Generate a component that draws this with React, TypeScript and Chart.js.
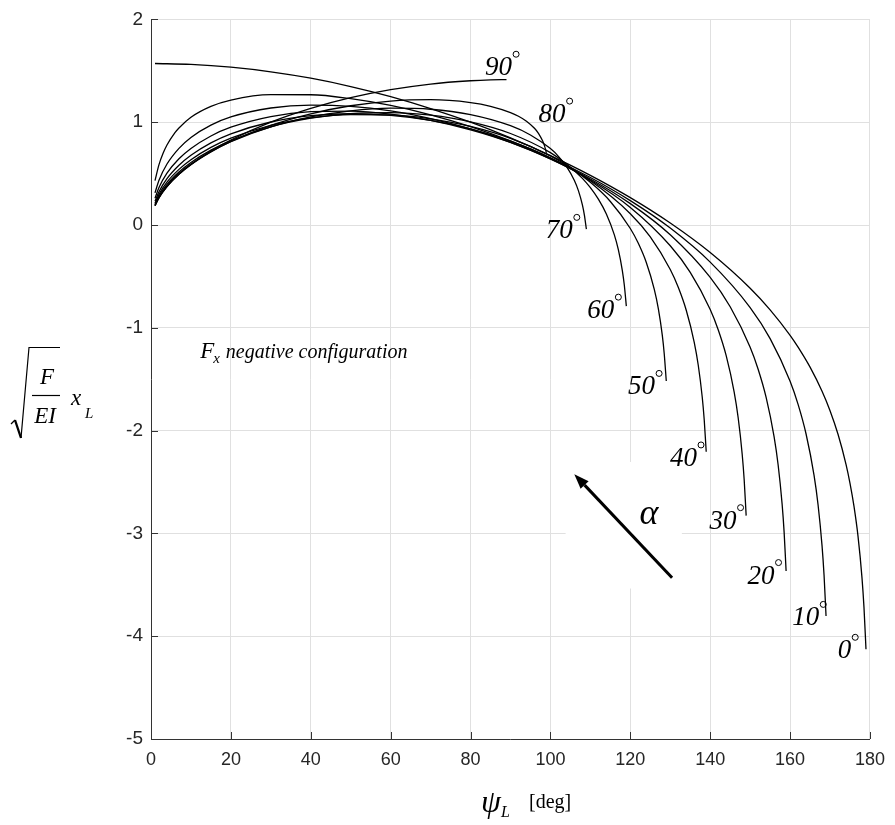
import React, { useEffect, useRef } from "react";
import { Chart, registerables } from "chart.js";

Chart.register(...registerables);

// ---------- data ----------
const ALPHA_LABELS = ["0", "10", "20", "30", "40", "50", "60", "70", "80", "90"];

const PSI_0 = [1, 10, 20, 30, 40, 50, 60, 70, 80, 90, 100, 110, 120, 130, 140, 150, 155, 160, 162, 165, 168, 170, 172, 174, 175, 176, 177, 178, 178.5, 179];
const XL_0 = [1.571, 1.562, 1.535, 1.49, 1.428, 1.347, 1.249, 1.133, 1.0, 0.847, 0.675, 0.483, 0.266, 0.019, -0.268, -0.615, -0.825, -1.073, -1.188, -1.383, -1.617, -1.806, -2.036, -2.328, -2.513, -2.738, -3.027, -3.433, -3.722, -4.127];

const PSI_10 = [1, 2, 3, 4, 6, 7, 10, 15, 20, 30, 40, 50, 60, 70, 80, 90, 100, 110, 120, 130, 140, 150, 155, 160, 162, 164, 166, 167, 168, 168.5, 169];
const XL_10 = [0.431, 0.587, 0.695, 0.778, 0.898, 0.944, 1.048, 1.154, 1.215, 1.268, 1.267, 1.229, 1.163, 1.072, 0.957, 0.818, 0.654, 0.462, 0.237, -0.03, -0.361, -0.803, -1.105, -1.52, -1.745, -2.033, -2.436, -2.721, -3.121, -3.405, -3.804];

const PSI_20 = [1, 2, 4, 7, 10, 15, 20, 30, 40, 50, 60, 70, 80, 90, 100, 110, 120, 130, 140, 145, 150, 152, 154, 156, 157, 158, 158.5, 159];
const XL_20 = [0.313, 0.435, 0.593, 0.746, 0.852, 0.972, 1.051, 1.138, 1.166, 1.154, 1.11, 1.035, 0.934, 0.804, 0.643, 0.448, 0.208, -0.095, -0.509, -0.795, -1.189, -1.403, -1.677, -2.061, -2.332, -2.714, -2.985, -3.366];

const PSI_30 = [1, 2, 4, 7, 10, 15, 20, 30, 40, 50, 60, 70, 80, 90, 100, 110, 120, 130, 135, 140, 142, 144, 146, 147, 148, 148.5, 149];
const XL_30 = [0.261, 0.365, 0.504, 0.644, 0.744, 0.866, 0.951, 1.055, 1.102, 1.108, 1.079, 1.018, 0.926, 0.803, 0.643, 0.438, 0.171, -0.202, -0.461, -0.822, -1.019, -1.271, -1.625, -1.875, -2.227, -2.476, -2.827];

const PSI_40 = [1, 2, 4, 7, 10, 15, 20, 30, 40, 50, 60, 70, 80, 90, 100, 110, 120, 125, 130, 132, 134, 136, 137, 138, 138.5, 139];
const XL_40 = [0.231, 0.324, 0.451, 0.581, 0.678, 0.799, 0.887, 1.002, 1.063, 1.082, 1.066, 1.017, 0.935, 0.815, 0.652, 0.43, 0.11, -0.116, -0.433, -0.606, -0.829, -1.141, -1.362, -1.673, -1.894, -2.205];

const PSI_50 = [1, 2, 4, 7, 10, 15, 20, 30, 40, 50, 60, 70, 80, 90, 100, 105, 110, 115, 120, 122, 124, 126, 127, 128, 128.5, 129];
const XL_50 = [0.212, 0.298, 0.417, 0.541, 0.635, 0.755, 0.845, 0.97, 1.042, 1.074, 1.071, 1.033, 0.959, 0.843, 0.672, 0.558, 0.415, 0.229, -0.034, -0.178, -0.364, -0.626, -0.811, -1.072, -1.257, -1.518];

const PSI_60 = [1, 2, 4, 7, 10, 15, 20, 30, 40, 50, 60, 70, 80, 90, 100, 104, 108, 110, 112, 114, 116, 117, 118, 118.5, 119];
const XL_60 = [0.2, 0.282, 0.395, 0.515, 0.608, 0.728, 0.821, 0.955, 1.039, 1.084, 1.093, 1.068, 1.003, 0.89, 0.704, 0.594, 0.454, 0.363, 0.251, 0.107, -0.096, -0.24, -0.443, -0.586, -0.789];

const PSI_70 = [1, 2, 4, 7, 10, 15, 20, 30, 40, 50, 60, 70, 80, 90, 95, 100, 102, 104, 106, 107, 108, 108.5, 109];
const XL_70 = [0.192, 0.271, 0.381, 0.5, 0.592, 0.713, 0.81, 0.954, 1.051, 1.111, 1.136, 1.126, 1.074, 0.966, 0.876, 0.743, 0.668, 0.571, 0.433, 0.334, 0.196, 0.097, -0.041];

const PSI_80 = [1, 2, 4, 7, 10, 15, 20, 30, 40, 50, 60, 70, 80, 85, 90, 92, 94, 96, 97, 98, 98.5, 99];
const XL_80 = [0.188, 0.266, 0.374, 0.493, 0.586, 0.71, 0.812, 0.969, 1.082, 1.16, 1.206, 1.219, 1.191, 1.155, 1.094, 1.058, 1.01, 0.941, 0.892, 0.821, 0.772, 0.701];

const PSI_90 = [1, 2, 4, 7, 10, 15, 20, 30, 40, 50, 60, 70, 80, 85, 89];
const XL_90 = [0.187, 0.264, 0.374, 0.494, 0.589, 0.72, 0.827, 1.0, 1.134, 1.238, 1.316, 1.371, 1.403, 1.412, 1.414];

const CURVES: [number[], number[]][] = [
  [PSI_0, XL_0], [PSI_10, XL_10], [PSI_20, XL_20], [PSI_30, XL_30], [PSI_40, XL_40],
  [PSI_50, XL_50], [PSI_60, XL_60], [PSI_70, XL_70], [PSI_80, XL_80], [PSI_90, XL_90],
];

// label anchors (right edge of the number, baseline) in data units
const LABEL_PSI = [175.3, 167.3, 156.1, 146.6, 136.7, 126.2, 116.0, 105.6, 103.8, 90.4];
const LABEL_Y = [-4.215, -3.895, -3.488, -2.954, -2.344, -1.648, -0.906, -0.13, 1.001, 1.457];

// arrow (tail -> head) and the white box behind it
const ARROW_PSI = [130.45, 105.98];
const ARROW_Y = [-3.432, -2.424];
const ALPHA_POS = [124.65, -2.812];
const BOX_PSI = [103.8, 132.9];
const BOX_Y = [-2.305, -3.536];
const NOTE_POS = [12.3, -1.29];

const X_MIN = 0, X_MAX = 180, X_STEP = 20;
const Y_MIN = -5, Y_MAX = 2, Y_STEP = 1;

const SERIF = "'Liberation Serif', 'Times New Roman', serif";
const SANS = "'Liberation Sans', Arial, sans-serif";
const AXIS_COLOR = "#333333";

export default function App() {
  const ref = useRef<HTMLCanvasElement | null>(null);

  useEffect(() => {
    const canvas = ref.current;
    if (!canvas) return;

    const datasets = CURVES.map(([ps, xs], i) => ({
      label: ALPHA_LABELS[i],
      data: ps.map((p, j) => ({ x: p, y: xs[j] })),
      showLine: true,
      borderColor: "#000",
      borderWidth: 1.3,
      pointRadius: 0,
      fill: false,
      cubicInterpolationMode: "monotone" as const,
    }));

    const annot = {
      id: "annot",
      beforeDatasetsDraw(chart: any) {
        const { ctx, scales } = chart;
        const x = scales.x, y = scales.y;
        ctx.save();
        ctx.fillStyle = "#fff";
        const x1 = x.getPixelForValue(BOX_PSI[0]);
        const x2 = x.getPixelForValue(BOX_PSI[1]);
        const y1 = y.getPixelForValue(BOX_Y[0]);
        const y2 = y.getPixelForValue(BOX_Y[1]);
        ctx.fillRect(x1, y1, x2 - x1, y2 - y1);
        ctx.restore();
      },
      afterDatasetsDraw(chart: any) {
        const { ctx, scales, chartArea } = chart;
        const x = scales.x, y = scales.y;
        const L = chartArea.left, B = chartArea.bottom;
        ctx.save();

        // inner tick marks
        ctx.strokeStyle = AXIS_COLOR;
        ctx.lineWidth = 1;
        ctx.beginPath();
        for (let v = X_MIN; v <= X_MAX; v += X_STEP) {
          const px = Math.round(x.getPixelForValue(v)) + 0.5;
          ctx.moveTo(px, B);
          ctx.lineTo(px, B - 7);
        }
        for (let v = Y_MIN; v <= Y_MAX; v += Y_STEP) {
          const py = Math.round(y.getPixelForValue(v)) + 0.5;
          ctx.moveTo(L, py);
          ctx.lineTo(L + 7, py);
        }
        ctx.stroke();

        // alpha labels
        ctx.fillStyle = "#000";
        ctx.strokeStyle = "#000";
        ctx.font = `italic 27px ${SERIF}`;
        ctx.textAlign = "right";
        ctx.textBaseline = "alphabetic";
        ALPHA_LABELS.forEach((lab, i) => {
          const px = x.getPixelForValue(LABEL_PSI[i]);
          const py = y.getPixelForValue(LABEL_Y[i]);
          ctx.fillText(lab, px, py);
          ctx.beginPath();
          ctx.lineWidth = 1;
          ctx.arc(px + 4, py - 21, 3, 0, Math.PI * 2);
          ctx.stroke();
        });

        // arrow
        const tx = x.getPixelForValue(ARROW_PSI[0]);
        const ty = y.getPixelForValue(ARROW_Y[0]);
        const hx = x.getPixelForValue(ARROW_PSI[1]);
        const hy = y.getPixelForValue(ARROW_Y[1]);
        const ang = Math.atan2(hy - ty, hx - tx);
        const hl = 15, hw = 5.5;
        const bx = hx - hl * Math.cos(ang), by = hy - hl * Math.sin(ang);
        ctx.lineWidth = 3;
        ctx.beginPath();
        ctx.moveTo(tx, ty);
        ctx.lineTo(bx, by);
        ctx.stroke();
        ctx.beginPath();
        ctx.moveTo(hx, hy);
        ctx.lineTo(bx + hw * Math.sin(ang), by - hw * Math.cos(ang));
        ctx.lineTo(bx - hw * Math.sin(ang), by + hw * Math.cos(ang));
        ctx.closePath();
        ctx.fill();

        // alpha symbol
        ctx.font = `italic 36px ${SERIF}`;
        ctx.textAlign = "center";
        ctx.textBaseline = "middle";
        ctx.fillText("α", x.getPixelForValue(ALPHA_POS[0]), y.getPixelForValue(ALPHA_POS[1]));

        // note text
        const nx = x.getPixelForValue(NOTE_POS[0]);
        const ny = y.getPixelForValue(NOTE_POS[1]);
        ctx.textAlign = "left";
        ctx.textBaseline = "alphabetic";
        ctx.font = `italic 23px ${SERIF}`;
        ctx.fillText("F", nx, ny);
        let w = ctx.measureText("F").width;
        ctx.font = `italic 15px ${SERIF}`;
        ctx.fillText("x", nx + w - 1, ny + 5);
        w += ctx.measureText("x").width;
        ctx.font = `italic 20px ${SERIF}`;
        ctx.fillText(" negative configuration", nx + w, ny);

        // y axis title: sqrt(F/EI) x_L
        ctx.lineWidth = 1.2;
        ctx.beginPath();
        ctx.moveTo(11, 424);
        ctx.lineTo(15, 420);
        ctx.stroke();
        ctx.lineWidth = 2.3;
        ctx.beginPath();
        ctx.moveTo(15, 420);
        ctx.lineTo(21, 438);
        ctx.stroke();
        ctx.lineWidth = 1.2;
        ctx.beginPath();
        ctx.moveTo(21, 438);
        ctx.lineTo(29, 347.5);
        ctx.lineTo(60, 347.5);
        ctx.stroke();
        ctx.beginPath();
        ctx.moveTo(32, 395.5);
        ctx.lineTo(60, 395.5);
        ctx.stroke();
        ctx.font = `italic 23px ${SERIF}`;
        ctx.textAlign = "center";
        ctx.fillText("F", 47, 384);
        ctx.fillText("EI", 45, 423);
        ctx.textAlign = "left";
        ctx.fillText("x", 71, 405);
        ctx.font = `italic 15px ${SERIF}`;
        ctx.fillText("L", 85, 418);

        // x axis title: psi_L [deg]
        ctx.font = `italic 32px ${SERIF}`;
        ctx.textAlign = "center";
        ctx.fillText("ψ", 491, 812);
        ctx.textAlign = "left";
        ctx.font = `italic 16px ${SERIF}`;
        ctx.fillText("L", 501, 817);
        ctx.font = `20px ${SERIF}`;
        ctx.fillText("[deg]", 529, 808);

        ctx.restore();
      },
    };

    const chart = new Chart(canvas, {
      type: "scatter",
      data: { datasets },
      options: {
        responsive: false,
        animation: false,
        events: [],
        layout: { padding: { left: 0, right: 21, top: 17, bottom: 0 } },
        plugins: { legend: { display: false }, tooltip: { enabled: false }, title: { display: false } },
        scales: {
          x: {
            type: "linear",
            min: X_MIN,
            max: X_MAX,
            afterFit: (s: any) => { s.height = 86; },
            ticks: { stepSize: X_STEP, padding: 10, color: "#262626", font: { family: SANS, size: 18 } },
            grid: { color: "#e0e0e0", lineWidth: 1, drawTicks: false },
            border: { display: true, color: AXIS_COLOR, width: 1 },
          },
          y: {
            type: "linear",
            min: Y_MIN,
            max: Y_MAX,
            afterFit: (s: any) => { s.width = 151; },
            ticks: { stepSize: Y_STEP, padding: 8, color: "#262626", font: { family: SANS, size: 19 } },
            grid: { color: "#e0e0e0", lineWidth: 1, drawTicks: false },
            border: { display: true, color: AXIS_COLOR, width: 1 },
          },
        },
      },
      plugins: [annot],
    });

    return () => chart.destroy();
  }, []);

  return (
    <div style={{ position: "fixed", left: 0, top: 0, width: 895, height: 825, background: "#fff" }}>
      <canvas ref={ref} width={895} height={825} style={{ width: 895, height: 825, display: "block" }} />
    </div>
  );
}
